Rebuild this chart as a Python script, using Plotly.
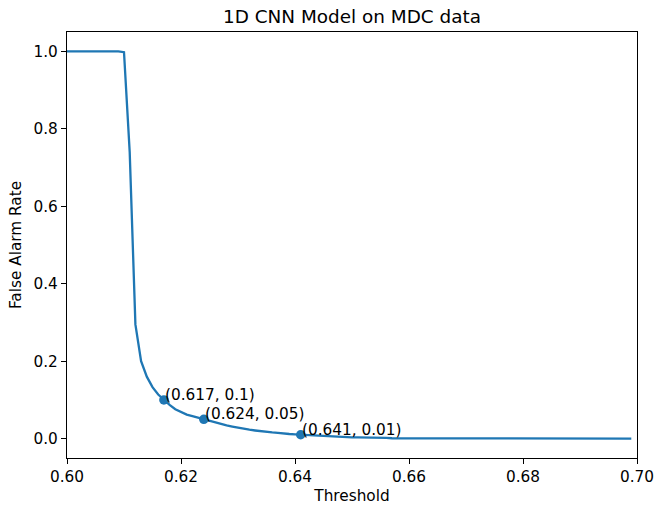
import plotly.graph_objects as go

thresholds = [round(0.600 + 0.001 * i, 3) for i in range(100)]
far = [
    1.0, 1.0, 1.0, 1.0, 1.0, 1.0, 1.0, 1.0, 1.0, 1.0,          # 0.600-0.609
    0.998, 0.74, 0.295, 0.200, 0.160, 0.133, 0.114, 0.100, 0.087, 0.076,  # 0.610-0.619
    0.068, 0.062, 0.058, 0.054, 0.050, 0.046, 0.041, 0.037, 0.034, 0.031,  # 0.620-0.629
    0.028, 0.025, 0.023, 0.021, 0.019, 0.017, 0.016, 0.015, 0.013, 0.012,  # 0.630-0.639
    0.011, 0.010, 0.009, 0.008, 0.007, 0.006, 0.006, 0.005, 0.004, 0.004,  # 0.640-0.649
    0.003, 0.003, 0.003, 0.002, 0.002, 0.002, 0.002, 0.001, 0.001, 0.001,  # 0.650-0.659
    0.001, 0.001, 0.001, 0.001, 0.0008, 0.0006, 0.0004, 0.0002, 0.0001, 0.0,  # 0.660-0.669
] + [0.0] * 30

marked_x = [0.617, 0.624, 0.641]
marked_y = [0.1, 0.05, 0.01]
marked_labels = ["(0.617, 0.1)", "(0.624, 0.05)", "(0.641, 0.01)"]

x_ticks = [0.60, 0.62, 0.64, 0.66, 0.68, 0.70]
x_tick_text = ["0.60", "0.62", "0.64", "0.66", "0.68", "0.70"]
y_ticks = [0.0, 0.2, 0.4, 0.6, 0.8, 1.0]
y_tick_text = ["0.0", "0.2", "0.4", "0.6", "0.8", "1.0"]

color = "#1f77b4"
font = "DejaVu Sans"
fs = 15.3

fig = go.Figure()
fig.add_trace(go.Scatter(x=thresholds, y=far, mode="lines",
                         line=dict(color=color, width=2.3), hoverinfo="skip"))
fig.add_trace(go.Scatter(x=marked_x, y=marked_y, mode="markers",
                         marker=dict(color=color, size=9.5), hoverinfo="skip"))

for xv, yv, t in zip(marked_x, marked_y, marked_labels):
    fig.add_annotation(x=xv, y=yv, text=t, showarrow=False,
                       xanchor="left", yanchor="bottom", xshift=-1, yshift=-6,
                       font=dict(family=font, size=fs, color="black"))

axis_common = dict(showline=True, linecolor="black", linewidth=1.2, mirror=True,
                   ticks="outside", ticklen=5, tickwidth=1.2, tickcolor="black",
                   showgrid=False, zeroline=False, automargin=False,
                   tickfont=dict(family=font, size=fs, color="black"))

fig.update_layout(
    width=657, height=505,
    margin=dict(l=67, r=20, t=32, b=47),
    plot_bgcolor="white", paper_bgcolor="white",
    showlegend=False,
    title=dict(text="1D CNN Model on MDC data", x=0.5, xref="paper",
               y=1 - 17 / 505, yref="container", yanchor="middle", xanchor="center",
               font=dict(family=font, size=18.4, color="black")),
    xaxis=dict(range=[0.60, 0.70], tickvals=x_ticks, ticktext=x_tick_text,
               title=dict(text="Threshold", font=dict(family=font, size=fs, color="black"), standoff=7),
               **axis_common),
    yaxis=dict(range=[-0.05, 1.05], tickvals=y_ticks, ticktext=y_tick_text,
               title=dict(text="False Alarm Rate", font=dict(family=font, size=fs, color="black"), standoff=8),
               **axis_common),
)

fig.write_html("out.html")
